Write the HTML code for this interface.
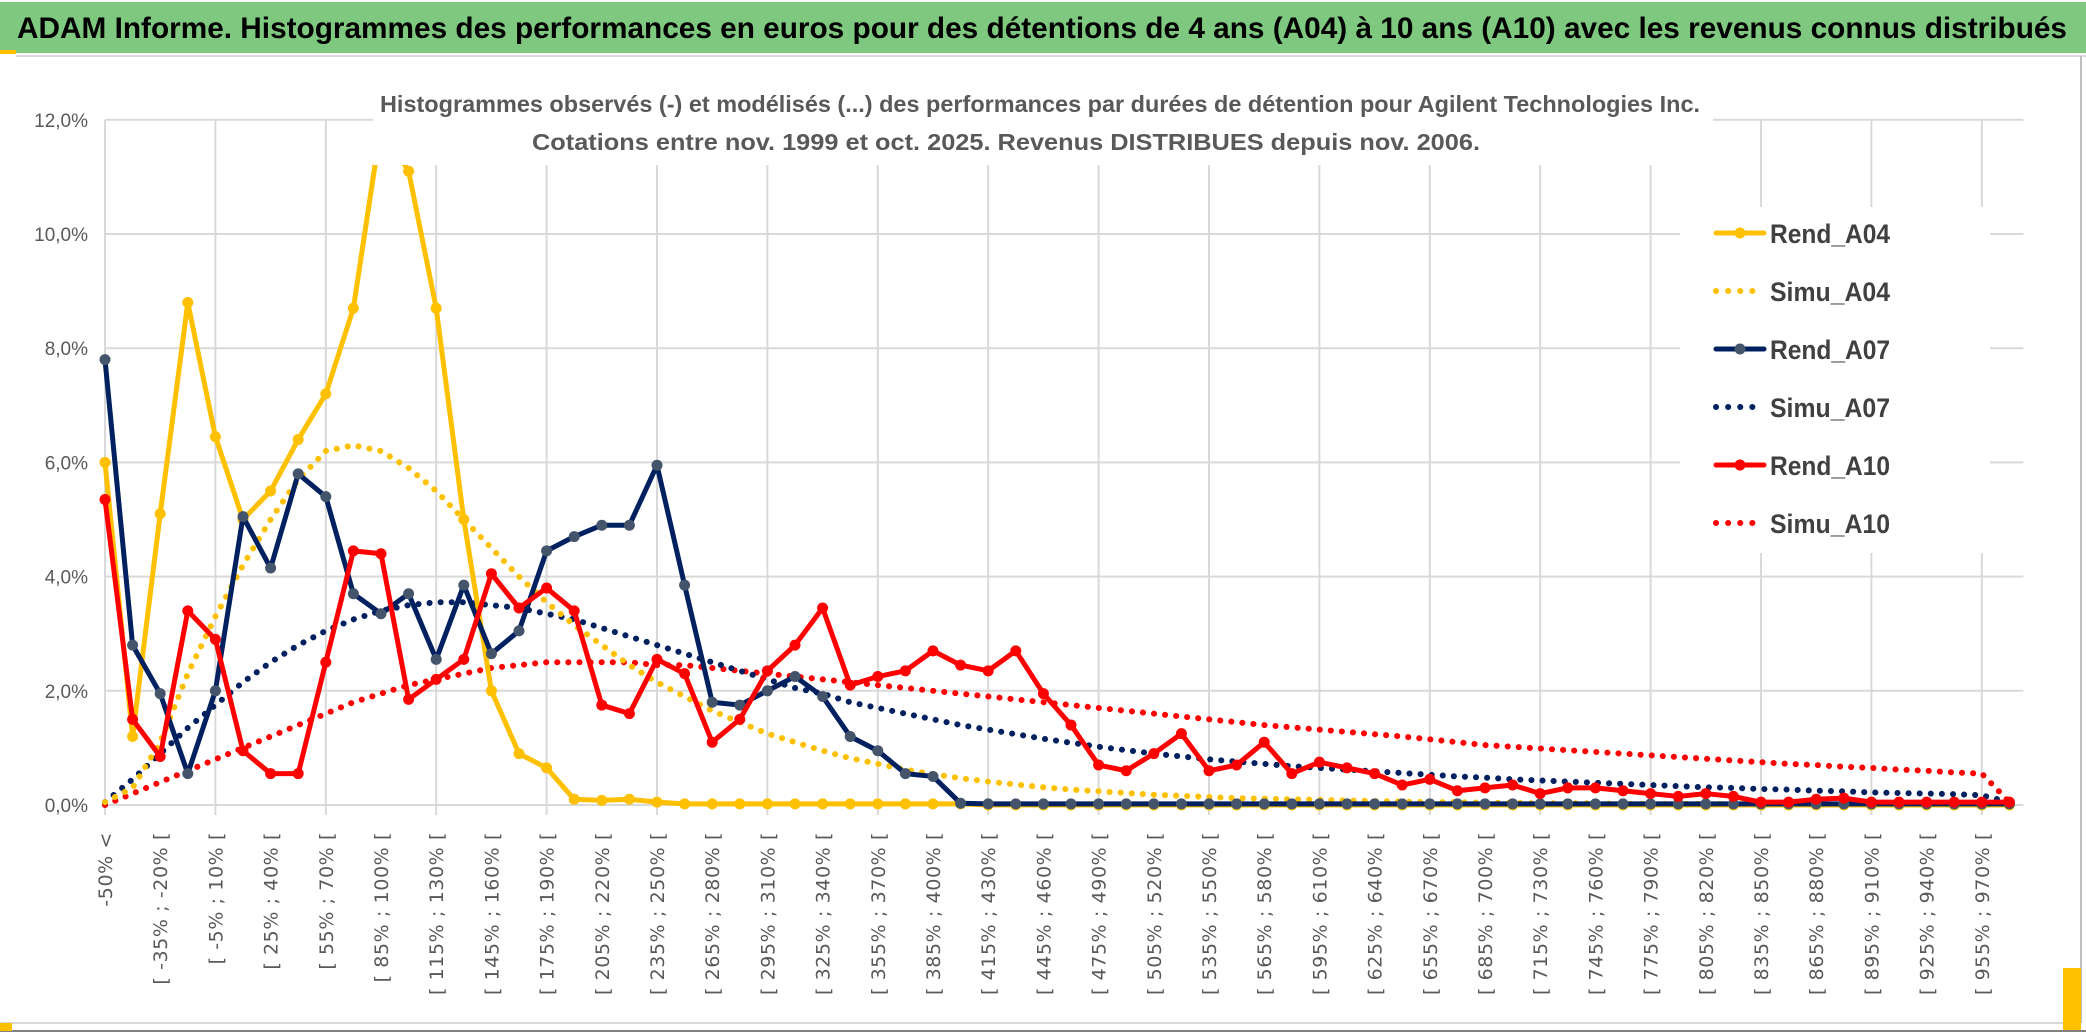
<!DOCTYPE html>
<html><head><meta charset="utf-8">
<style>
html,body{margin:0;padding:0;background:#fff;}
svg{display:block;}
</style></head>
<body>
<svg id="chart" width="2086" height="1033" viewBox="0 0 2086 1033" xmlns="http://www.w3.org/2000/svg">
  <rect x="0" y="0" width="2086" height="1033" fill="#ffffff"/>
  <rect x="0" y="2" width="2086" height="51" fill="#7ec87f"/>
  <rect x="0" y="50" width="16" height="4" fill="#ffc000"/>
  <line x1="16" y1="56" x2="2086" y2="56" stroke="#d9d9d9" stroke-width="2"/>
  <text x="17" y="38" font-family="Liberation Sans, sans-serif" font-weight="bold" font-size="30" fill="#000" textLength="2050" lengthAdjust="spacingAndGlyphs">ADAM Informe. Histogrammes des performances en euros pour des détentions de 4 ans (A04) à 10 ans (A10) avec les revenus connus distribués</text>
  <line x1="2081" y1="56" x2="2081" y2="1023" stroke="#bfbfbf" stroke-width="2"/>
  <line x1="0" y1="1023" x2="2081" y2="1023" stroke="#d9d9d9" stroke-width="2"/>
  <line x1="0" y1="1031" x2="2086" y2="1031" stroke="#808080" stroke-width="2"/>
  <rect x="2063" y="968" width="18" height="62" fill="#ffc000"/>
  <rect x="0" y="1023" width="12" height="8" fill="#ffc000"/>
  <g id="grid"></g>
  <g id="series"></g>
  <rect x="373" y="60" width="1340" height="105" fill="#fff"/>
  <text x="1040" y="112" text-anchor="middle" font-family="Liberation Sans, sans-serif" font-weight="bold" font-size="23" fill="#595959" textLength="1320" lengthAdjust="spacingAndGlyphs">Histogrammes observés (-) et modélisés (...) des performances par durées de détention pour Agilent Technologies Inc.</text>
  <text x="1006" y="150" text-anchor="middle" font-family="Liberation Sans, sans-serif" font-weight="bold" font-size="23" fill="#595959" textLength="948" lengthAdjust="spacingAndGlyphs">Cotations entre nov. 1999 et oct. 2025. Revenus DISTRIBUES depuis nov. 2006.</text>
  <g id="legend"></g>
  <g id="axes"></g>
</svg>
<script>
const categories = (function(){ const a=["-50% <"]; for(let lo=-50; lo<=970; lo+=15){ a.push("[ "+lo+"% ; "+(lo+15)+"% ["); } return a.slice(0,70); })();
const yTicks = [0,2,4,6,8,10,12];
const yTickLabels = ["0,0%","2,0%","4,0%","6,0%","8,0%","10,0%","12,0%"];
const rendA04 = [6.0,1.2,5.1,8.8,6.45,5.0,5.5,6.4,7.2,8.7,11.9,11.1,8.7,5.0,2.0,0.9,0.65,0.1,0.08,0.1,0.05,0.02,0.02,0.02,0.02,0.02,0.02,0.02,0.02,0.02,0.02,0.02,0,0,0,0,0,0,0,0,0,0,0,0,0,0,0,0,0,0,0,0,0,0,0,0,0,0,0,0,0,0,0,0,0,0,0,0,0,0];
const simuA04 = [0.05,0.3,1.1,2.3,3.3,4.2,5.0,5.7,6.2,6.3,6.2,5.9,5.5,5.0,4.5,4.0,3.55,3.15,2.8,2.45,2.15,1.9,1.65,1.45,1.25,1.1,0.95,0.82,0.72,0.62,0.54,0.47,0.41,0.36,0.31,0.27,0.24,0.21,0.18,0.16,0.14,0.12,0.11,0.1,0.09,0.08,0.07,0.06,0.05,0.05,0.04,0.04,0.03,0.03,0.03,0.02,0.02,0.02,0.02,0.02,0.01,0.01,0.01,0.01,0.01,0.01,0.01,0.01,0.01,0.01];
const rendA07 = [7.8,2.8,1.95,0.55,2.0,5.05,4.15,5.8,5.4,3.7,3.35,3.7,2.55,3.85,2.65,3.05,4.45,4.7,4.9,4.9,5.95,3.85,1.8,1.75,2.0,2.25,1.9,1.2,0.95,0.55,0.5,0.03,0.02,0.02,0.02,0.02,0.02,0.02,0.02,0.02,0.02,0.02,0.02,0.02,0.02,0.02,0.02,0.02,0.02,0.02,0.02,0.02,0.02,0.02,0.02,0.02,0.02,0.02,0.02,0.02,0.02,0.02,0.02,0.02,0.02,0.02,0.02,0.02,0.02,0.02];
const simuA07 = [0.05,0.45,0.9,1.35,1.75,2.15,2.5,2.8,3.05,3.25,3.4,3.5,3.55,3.55,3.5,3.45,3.35,3.25,3.1,2.95,2.8,2.65,2.5,2.35,2.2,2.05,1.95,1.8,1.7,1.6,1.5,1.4,1.32,1.24,1.16,1.09,1.02,0.96,0.9,0.85,0.8,0.76,0.72,0.68,0.65,0.62,0.59,0.56,0.53,0.5,0.48,0.45,0.43,0.41,0.39,0.37,0.35,0.33,0.31,0.3,0.28,0.27,0.25,0.24,0.22,0.21,0.2,0.19,0.17,0.05];
const rendA10 = [5.35,1.5,0.85,3.4,2.9,0.95,0.55,0.55,2.5,4.45,4.4,1.85,2.2,2.55,4.05,3.45,3.8,3.4,1.75,1.6,2.55,2.3,1.1,1.5,2.35,2.8,3.45,2.1,2.25,2.35,2.7,2.45,2.35,2.7,1.95,1.4,0.7,0.6,0.9,1.25,0.6,0.7,1.1,0.55,0.75,0.65,0.55,0.35,0.45,0.25,0.3,0.35,0.2,0.3,0.3,0.25,0.2,0.15,0.2,0.15,0.05,0.05,0.1,0.12,0.05,0.05,0.05,0.05,0.05,0.05];
const simuA10 = [0.0,0.2,0.4,0.6,0.8,1.0,1.2,1.4,1.6,1.8,1.95,2.1,2.2,2.3,2.4,2.45,2.5,2.5,2.5,2.5,2.45,2.45,2.4,2.35,2.3,2.25,2.2,2.15,2.1,2.05,2.0,1.95,1.9,1.85,1.8,1.75,1.7,1.65,1.6,1.55,1.5,1.45,1.4,1.36,1.32,1.28,1.24,1.2,1.15,1.1,1.05,1.02,0.99,0.96,0.93,0.9,0.87,0.84,0.81,0.78,0.75,0.72,0.7,0.67,0.65,0.62,0.6,0.57,0.55,0.05];
const seriesNames = ["Rend_A04","Simu_A04","Rend_A07","Simu_A07","Rend_A10","Simu_A10"];

const NS="http://www.w3.org/2000/svg";
const X0=105, DX=27.6, Y0=805, PPU=57.1;
function xs(i){ return X0+i*DX; }
function ys(v){ return Y0-v*PPU; }
function mk(tag, attrs, parent){ const e=document.createElementNS(NS,tag); for(const k in attrs) e.setAttribute(k,attrs[k]); parent.appendChild(e); return e; }

const grid=document.getElementById('grid');
yTicks.forEach(function(t,i){
  const l=mk('line',{x1:X0,x2:xs(categories.length-1)+14,y1:ys(t),y2:ys(t),stroke:'#d9d9d9','stroke-width':2},grid);
  
  
});
for(let i=0;i<categories.length;i+=4){
  const l=mk('line',{x1:xs(i),x2:xs(i),y1:ys(12),y2:ys(0)+10,stroke:'#d9d9d9','stroke-width':2},grid);
  
  
}

const axes=document.getElementById('axes');
yTicks.forEach(function(t,i){
  const tx=mk('text',{x:88,y:ys(t)+7,'text-anchor':'end','font-family':'Liberation Sans, sans-serif','font-size':19,fill:'#595959'},axes);
  tx.textContent=yTickLabels[i];
  
  
});
for(let i=0;i<categories.length;i+=2){
  const x=xs(i)+7, y=832;
  const tx=mk('text',{x:x,y:y,transform:'rotate(-90 '+x+' '+y+')','text-anchor':'end','font-family':'DejaVu Sans, sans-serif','font-size':19,'letter-spacing':'0.6',fill:'#595959'},axes);
  tx.textContent=categories[i];
  
  
}

const sg=document.getElementById('series');
function solid(data,color,marker,name){
  const g=mk('g',{},sg);
  
  
  const pts=data.map(function(v,i){return xs(i)+','+ys(v);}).join(' ');
  const p=mk('polyline',{points:pts,fill:'none',stroke:color,'stroke-width':5,'stroke-linejoin':'round'},g);
  
  
  data.forEach(function(v,i){
    const c=mk('circle',{cx:xs(i),cy:ys(v),r:5.5,fill:marker},g);
    
    
  });
}
function dotted(data,color,name){
  const pts=data.map(function(v,i){return xs(i)+','+ys(v);}).join(' ');
  const p=mk('polyline',{points:pts,fill:'none',stroke:color,'stroke-width':6,'stroke-dasharray':'0.1 11','stroke-linecap':'round'},sg);
  
  
}
dotted(simuA10,'#ff0000','simu-a10-line');
dotted(simuA07,'#002060','simu-a07-line');
dotted(simuA04,'#ffc000','simu-a04-line');
solid(rendA04,'#ffc000','#ffc000','rend-a04');
solid(rendA07,'#002060','#44546a','rend-a07');
solid(rendA10,'#ff0000','#ff0000','rend-a10');

const lg=document.getElementById('legend');
const bg=mk('rect',{x:1680,y:207,width:310,height:346,fill:'#fff'},lg);


const legColors=['#ffc000','#ffc000','#002060','#002060','#ff0000','#ff0000'];
const legMarker=['#ffc000',null,'#44546a',null,'#ff0000',null];
seriesNames.forEach(function(n,i){
  const y=233+i*58;
  const g=mk('g',{},lg);
  
  
  if(legMarker[i]){
    mk('line',{x1:1716,x2:1764,y1:y,y2:y,stroke:legColors[i],'stroke-width':5,'stroke-linecap':'round'},g);
    mk('circle',{cx:1740,cy:y,r:5.5,fill:legMarker[i]},g);
  } else {
    mk('line',{x1:1716,x2:1764,y1:y,y2:y,stroke:legColors[i],'stroke-width':6,'stroke-dasharray':'0.1 12','stroke-linecap':'round'},g);
  }
  const t=mk('text',{x:1770,y:y+10,'font-family':'Liberation Sans, sans-serif','font-weight':'bold','font-size':27,fill:'#404040',textLength:120,lengthAdjust:'spacingAndGlyphs'},g);
  t.textContent=n;
});
</script>
</body></html>
